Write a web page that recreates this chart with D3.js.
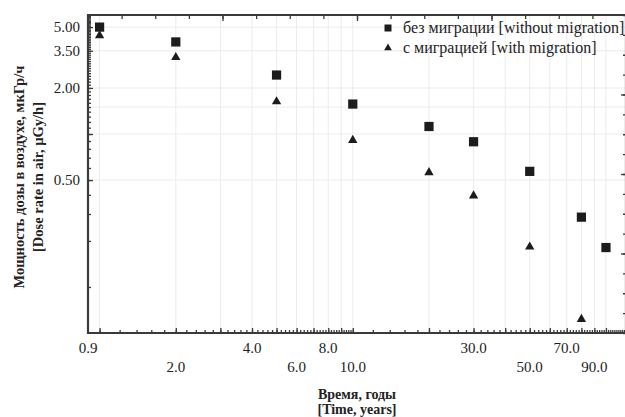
<!DOCTYPE html>
<html><head><meta charset="utf-8">
<script src="https://cdn.jsdelivr.net/npm/d3@7"></script>
<style>
html,body{margin:0;padding:0;background:#fff;}
svg{display:block;}
svg text{font-family:"Liberation Serif","Times New Roman","DejaVu Serif",serif;}
</style></head>
<body><svg id="c" width="625" height="417"></svg>
<script>
// ---- data ----
const years = [1, 2, 5, 10, 20, 30, 50, 80, 100];
const withoutMigration = [5.0, 4.0, 2.43, 1.57, 1.12, 0.89, 0.57, 0.286, 0.181];
const withMigrationYears = [1, 2, 5, 10, 20, 30, 50, 80];
const withMigration = [4.4, 3.17, 1.63, 0.91, 0.56, 0.395, 0.183, 0.0615];
const xTickRow1 = [0.9, 4, 8, 30, 70];
const xTickRow2 = [2, 6, 10, 50, 90];
const yTickLabels = [5.0, 3.5, 2.0, 0.5];
const yGrid = [5, 3.5, 2, 1.5, 1, 0.5];
const xGrid = [1,2,3,4,5,6,7,8,9,10,20,30,40,50,60,70,80,90,100];
const legendLabels = ["без миграции [without migration]", "с миграцией [with migration]"];
const yTitle = ["Мощность дозы в воздухе, мкГр/ч", "[Dose rate in air,  µGy/h]"];
const xTitle = ["Время, годы", "[Time, years]"];

const FONT = "Liberation Serif, Times New Roman, DejaVu Serif, serif";
const svg = d3.select("#c");
const L = 88, R = 626, T = 15, B = 333;
const x = d3.scaleLog().domain([0.9, 120]).range([L, R]);
const y = d3.scaleLog().domain([0.05, 6]).range([B, T]);
const axisCol = "#3a3a3a";
const markCol = "#1c1c1c";

// grid
svg.append("g").selectAll("line").data(xGrid).join("line")
  .attr("x1", d => x(d)).attr("x2", d => x(d)).attr("y1", T).attr("y2", B)
  .attr("stroke", "#ececec").attr("stroke-width", 1);
svg.append("g").selectAll("line").data(yGrid).join("line")
  .attr("y1", d => y(d)).attr("y2", d => y(d)).attr("x1", L).attr("x2", R)
  .attr("stroke", "#ececec").attr("stroke-width", 1);

// minor tick values
const xMinor = [];
for (let v = 1; v <= 10.0001; v += 0.2) xMinor.push(+v.toFixed(1));
for (let v = 12; v <= 120; v += 2) xMinor.push(v);
const xMajor = [1,2,3,4,5,6,7,8,9,10,20,30,40,50,60,70,80,90,100];
const yMinor = [];
for (let v = 0.1; v <= 1.0001; v += 0.1) yMinor.push(+v.toFixed(1));
for (let v = 1.1; v <= 6.0001; v += 0.1) yMinor.push(+v.toFixed(1));
const yMajor = [5, 3.5, 2, 1, 0.5];

function styleAxis(g){
  g.select(".domain").remove();
  g.selectAll(".tick line").attr("stroke", axisCol).attr("stroke-width", 1.3);
}
svg.append("g").attr("transform", `translate(0,${B})`)
  .call(d3.axisBottom(x).tickValues(xMinor).tickSize(-3).tickFormat(""))
  .call(styleAxis);
svg.append("g").attr("transform", `translate(0,${B})`)
  .call(d3.axisBottom(x).tickValues(xMajor).tickSize(-5).tickFormat(""))
  .call(styleAxis);
svg.append("g").attr("transform", `translate(${L},0)`)
  .call(d3.axisLeft(y).tickValues(yMinor).tickSize(-3).tickFormat(""))
  .call(styleAxis);
svg.append("g").attr("transform", `translate(${L},0)`)
  .call(d3.axisLeft(y).tickValues(yMajor).tickSize(-5).tickFormat(""))
  .call(styleAxis);
const xt = d3.scaleLinear().domain([0, 16]).range([L, R]);
const yr = d3.scaleLinear().domain([0, 16]).range([B, T]);
svg.append("g").attr("transform", `translate(0,${T})`)
  .call(d3.axisTop(xt).ticks(16).tickSize(-4).tickFormat(""))
  .call(styleAxis);
svg.append("g").attr("transform", `translate(0,${T})`)
  .call(d3.axisTop(xt).tickValues([4,8,12]).tickSize(-6).tickFormat(""))
  .call(styleAxis);
svg.append("g").attr("transform", `translate(${R},0)`)
  .call(d3.axisRight(yr).ticks(16).tickSize(-3).tickFormat(""))
  .call(styleAxis);
svg.append("g").attr("transform", `translate(${R},0)`)
  .call(d3.axisRight(yr).tickValues([4,8,12]).tickSize(-5).tickFormat(""))
  .call(styleAxis);

svg.append("path")
  .attr("d", `M${L},${T}H${R}V${B}H${L}Z`)
  .attr("fill", "none").attr("stroke", axisCol).attr("stroke-width", 2.2);

svg.append("g").selectAll("text").data(xTickRow1).join("text")
  .attr("x", d => x(d)).attr("y", 353).attr("text-anchor", "middle")
  .attr("font-family", FONT).attr("font-size", 15).attr("fill", "#222").text(d => d.toFixed(1));
svg.append("g").selectAll("text").data(xTickRow2).join("text")
  .attr("x", d => x(d)).attr("y", 372).attr("text-anchor", "middle")
  .attr("font-family", FONT).attr("font-size", 15).attr("fill", "#222").text(d => d.toFixed(1));
svg.append("g").selectAll("text").data(yTickLabels).join("text")
  .attr("x", 80).attr("y", d => y(d) + 5).attr("text-anchor", "end")
  .attr("font-family", FONT).attr("font-size", 15).attr("fill", "#222").text(d => d.toFixed(2));

svg.append("g").selectAll("text").data(xTitle).join("text")
  .attr("x", 357).attr("y", (d, i) => 399 + i * 15).attr("text-anchor", "middle")
  .attr("font-family", FONT).attr("font-size", 14).attr("font-weight", "bold").attr("fill", "#222").text(d => d);
svg.append("g").selectAll("text").data(yTitle).join("text")
  .attr("transform", (d, i) => `translate(${24 + i * 19},177) rotate(-90)`)
  .attr("text-anchor", "middle")
  .attr("font-family", FONT).attr("font-size", 14.5).attr("font-weight", "bold").attr("fill", "#222").text(d => d);

const sq = d3.symbol().type(d3.symbolSquare).size(85);
const tri = d3.symbol().type(d3.symbolTriangle).size(38);
svg.append("g").selectAll("path").data(years.map((t, i) => [t, withoutMigration[i]])).join("path")
  .attr("d", sq).attr("transform", d => `translate(${x(d[0])},${y(d[1])})`).attr("fill", markCol);
svg.append("g").selectAll("path").data(withMigrationYears.map((t, i) => [t, withMigration[i]])).join("path")
  .attr("d", tri).attr("transform", d => `translate(${x(d[0])},${y(d[1])})`).attr("fill", markCol);

const lg = svg.append("g");
lg.selectAll("path").data(legendLabels).join("path")
  .attr("d", (d, i) => (i === 0 ? d3.symbol().type(d3.symbolSquare).size(49) : d3.symbol().type(d3.symbolTriangle).size(26))())
  .attr("transform", (d, i) => `translate(388,${28 + i * 20})`).attr("fill", markCol);
lg.selectAll("text").data(legendLabels).join("text")
  .attr("x", 403).attr("y", (d, i) => 33 + i * 20)
  .attr("font-family", FONT).attr("font-size", 16).attr("fill", "#222").text(d => d);
</script></body></html>
